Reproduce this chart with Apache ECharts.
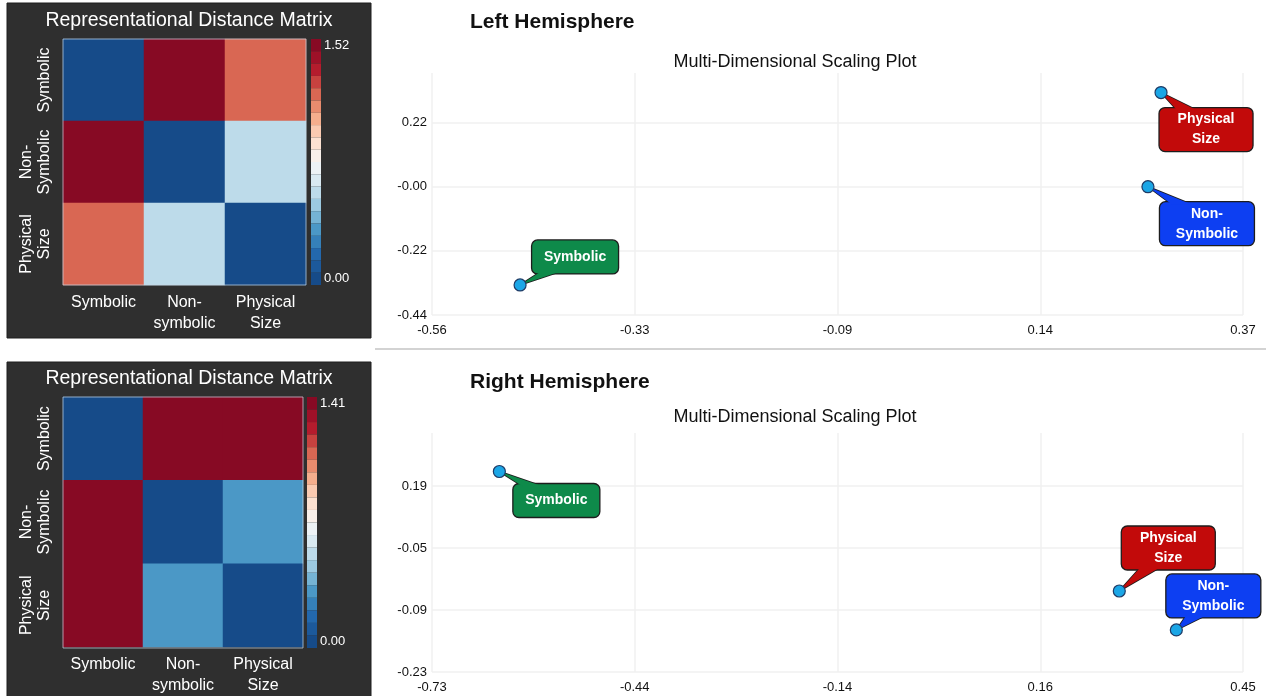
<!DOCTYPE html>
<html><head><meta charset="utf-8">
<script src="https://cdn.jsdelivr.net/npm/echarts@6/dist/echarts.min.js"></script>
<style>html,body{margin:0;padding:0;background:#fff}#c{width:1270px;height:696px}</style>
</head><body><div id="c"></div>
<script>
// ---------------- DATA ----------------
const conditions = ['Symbolic', 'Non-Symbolic', 'Physical Size'];
const calloutText = ['Symbolic', 'Non-\nSymbolic', 'Physical\nSize'];
const heatXLabels = ['Symbolic', 'Non-\nsymbolic', 'Physical\nSize'];
const heatYLabels = ['Symbolic', 'Non-\nSymbolic', 'Physical\nSize'];

// Representational distance matrices (rows/cols: Symbolic, Non-Symbolic, Physical Size)
const leftRDM = [[0, 1.52, 1.18], [1.52, 0, 0.57], [1.18, 0.57, 0]];
const rightRDM = [[0, 1.41, 1.39], [1.41, 0, 0.31], [1.39, 0.31, 0]];
const leftRDMMax = 1.52;
const rightRDMMax = 1.41;

// MDS coordinates (order: Symbolic, Non-Symbolic, Physical Size)
const leftMdsX = [-0.459, 0.261, 0.276];
const leftMdsY = [-0.337, 0.000, 0.323];
const rightMdsX = [-0.632, 0.353, 0.270];
const rightMdsY = [0.223, -0.135, -0.047];

// Axis ranges and tick labels
const leftXRange = [-0.56, 0.37];
const leftXTicks = [-0.56, -0.3275, -0.095, 0.1375, 0.37];
const leftXTickLabels = ['-0.56', '-0.33', '-0.09', '0.14', '0.37'];
const leftYRange = [-0.44, 0.39];
const leftYTicks = [-0.44, -0.22, 0, 0.22];
const leftYTickLabels = ['-0.44', '-0.22', '-0.00', '0.22'];

const rightXRange = [-0.73, 0.45];
const rightXTicks = [-0.73, -0.435, -0.14, 0.155, 0.45];
const rightXTickLabels = ['-0.73', '-0.44', '-0.14', '0.16', '0.45'];
const rightYRange = [-0.23, 0.31];
const rightYTicks = [-0.23, -0.09, 0.05, 0.19];
const rightYTickLabels = ['-0.23', '-0.09', '-0.05', '0.19'];

// ---------------- STYLE ----------------
const FONT = '"Liberation Sans", Arial, Helvetica, sans-serif';
const rdbu = ['#164b89', '#2166ac', '#4393c3', '#92c5de', '#d1e5f0', '#f7f7f7',
              '#fddbc7', '#f4a582', '#d6604d', '#b2182b', '#870a24'];
const calloutColors = ['#0e8a4a', '#0d3ff2', '#c20a0a'];
const calloutSizes = [[87, 34], [95, 44], [94, 44]];
const leftCalloutOffsets = [[55, -28], [59, 37], [45, 37]];
const rightCalloutOffsets = [[57, 29], [37, -34], [49, -43]];

const L = {
  heatTop: {left: 63, top: 39, width: 243, height: 246},
  heatBot: {left: 63, top: 397, width: 240, height: 251},
  cbarTop: {left: 311, top: 39, width: 10, height: 246},
  cbarBot: {left: 307, top: 397, width: 10, height: 251},
  mdsTop: {left: 432, top: 73, width: 811, height: 242},
  mdsBot: {left: 432, top: 433, width: 811, height: 239}
};

// ---------------- BUILD ----------------
const yCats = heatYLabels.slice().reverse();
function heatData(m) {
  const d = [];
  for (let r = 0; r < m.length; r++)
    for (let c = 0; c < m[r].length; c++) d.push([c, m.length - 1 - r, m[r][c]]);
  return d;
}
function tickFmt(ticks, labels) {
  return function (v) {
    let best = 0, bd = Infinity;
    ticks.forEach((t, i) => { const dd = Math.abs(t - v); if (dd < bd) { bd = dd; best = i; } });
    return labels[best];
  };
}
function heatXAxis(g) {
  return {gridIndex: g, type: 'category', data: heatXLabels, position: 'bottom',
    axisLine: {show: false}, axisTick: {show: false}, splitLine: {show: false},
    axisLabel: {interval: 0, color: '#fff', fontSize: 16, fontFamily: FONT, lineHeight: 21, margin: 7}};
}
function heatYAxis(g) {
  return {gridIndex: g, type: 'category', data: yCats,
    axisLine: {show: false}, axisTick: {show: false}, splitLine: {show: false},
    axisLabel: {interval: 0, rotate: 90, color: '#fff', fontSize: 16, fontFamily: FONT, lineHeight: 18, margin: 9}};
}
function cbarXAxis(g) {
  return {gridIndex: g, type: 'value', show: false, min: 0, max: 1};
}
function cbarYAxis(g, max) {
  return {gridIndex: g, type: 'value', min: 0, max: max, position: 'right',
    axisLine: {show: false}, axisTick: {show: false, customValues: [0, max]}, splitLine: {show: false},
    axisLabel: {customValues: [0, max], formatter: v => v.toFixed(2), color: '#fff', fontSize: 13,
      fontFamily: FONT, margin: 3, verticalAlignMinLabel: 'bottom', verticalAlignMaxLabel: 'top'}};
}
function mdsAxis(g, range, ticks, labels, isX) {
  return {gridIndex: g, type: 'value', min: range[0], max: range[1],
    axisLine: {show: false}, axisTick: {show: false, customValues: ticks},
    splitLine: {show: true, lineStyle: {color: '#f0f0f0', width: 1.5}},
    axisLabel: {customValues: ticks, formatter: tickFmt(ticks, labels), color: '#111', fontSize: 13,
      fontFamily: FONT, margin: isX ? 9 : 5}};
}
function piecewise(seriesIndex, max, box) {
  return {type: 'piecewise', seriesIndex: seriesIndex, min: 0, max: max, splitNumber: 20,
    inRange: {color: rdbu}, orient: 'vertical', left: box.left, top: box.top,
    itemWidth: box.width, itemHeight: box.height / 20, itemGap: 0, itemSymbol: 'rect',
    showLabel: false, padding: 0, selectedMode: false, hoverLink: false};
}
function calloutSeries(axisIdx, xs, ys, offsets) {
  return {
    type: 'custom', xAxisIndex: axisIdx, yAxisIndex: axisIdx, silent: true, z: 3, clip: false,
    data: xs.map((x, i) => [x, ys[i], i]),
    renderItem(params, api) {
      const i = api.value(2);
      const p = api.coord([api.value(0), api.value(1)]);
      const off = offsets[i], sz = calloutSizes[i], col = calloutColors[i];
      const w = sz[0], h = sz[1];
      const cx = p[0] + off[0], cy = p[1] + off[1];
      const vx = p[0] - cx, vy = p[1] - cy;
      const tx = Math.abs((w / 2) / (vx || 1e-6)), ty = Math.abs((h / 2) / (vy || 1e-6));
      let b1, b2;
      if (ty < tx) {
        const sy = Math.sign(vy);
        const ey = cy + sy * h / 2 - sy * 3;
        let ex = cx + vx * ty; ex = ex + (cx - ex) * 0.3;
        b1 = [ex - 10, ey]; b2 = [ex + 10, ey];
      } else {
        const sx = Math.sign(vx);
        const ex = cx + sx * w / 2 - sx * 3;
        let ey = cy + vy * tx; ey = ey + (cy - ey) * 0.3;
        b1 = [ex, ey - 8]; b2 = [ex, ey + 8];
      }
      return {type: 'group', children: [
        {type: 'polygon', shape: {points: [p, b1, b2]}, style: {fill: col, stroke: '#1d1d1d', lineWidth: 1.6}},
        {type: 'rect', shape: {x: cx - w / 2, y: cy - h / 2, width: w, height: h, r: 6},
          style: {fill: col, stroke: '#1d1d1d', lineWidth: 1.3}},
        {type: 'polygon', shape: {points: [p, b1, b2]}, style: {fill: col}},
        {type: 'text', x: cx, y: cy, style: {text: calloutText[i], fill: '#fff',
          font: 'bold 14px ' + FONT, align: 'center', verticalAlign: 'middle', lineHeight: 20}}
      ]};
    }
  };
}
function pointSeries(axisIdx, xs, ys) {
  return {type: 'scatter', xAxisIndex: axisIdx, yAxisIndex: axisIdx, z: 5, silent: true,
    data: xs.map((x, i) => [x, ys[i]]), symbolSize: 12,
    itemStyle: {color: '#1ba6e6', borderColor: '#1e3b66', borderWidth: 1.2, opacity: 1}};
}
function txt(x, y, text, font, fill, align) {
  return {type: 'text', x: x, y: y, silent: true,
    style: {text: text, font: font, fill: fill, align: align, verticalAlign: 'middle',
      textAlign: align, textVerticalAlign: 'middle'}};
}
function outline(box) {
  return {type: 'rect', z: 20, silent: true,
    shape: {x: box.left, y: box.top, width: box.width, height: box.height},
    style: {fill: null, stroke: 'rgba(200,215,230,0.7)', lineWidth: 1}};
}

const option = {
  animation: false,
  backgroundColor: '#fff',
  graphic: [
    {type: 'rect', shape: {x: 7, y: 3, width: 364, height: 335}, style: {fill: '#2f2f2f', stroke: '#1e1e1e', lineWidth: 1}, z: -10, silent: true},
    {type: 'rect', shape: {x: 7, y: 362, width: 364, height: 340}, style: {fill: '#2f2f2f', stroke: '#1e1e1e', lineWidth: 1}, z: -10, silent: true},
    {type: 'line', shape: {x1: 375, y1: 349, x2: 1266, y2: 349}, style: {stroke: '#c4c4c4', lineWidth: 1.5}, silent: true},
    outline(L.heatTop), outline(L.heatBot),
    txt(189, 21, 'Representational Distance Matrix', '19.5px ' + FONT, '#fff', 'center'),
    txt(189, 379, 'Representational Distance Matrix', '19.5px ' + FONT, '#fff', 'center'),
    txt(470, 22, 'Left Hemisphere', 'bold 21px ' + FONT, '#111', 'left'),
    txt(470, 382, 'Right Hemisphere', 'bold 21px ' + FONT, '#111', 'left'),
    txt(795, 62, 'Multi-Dimensional Scaling Plot', '18px ' + FONT, '#111', 'center'),
    txt(795, 417, 'Multi-Dimensional Scaling Plot', '18px ' + FONT, '#111', 'center')
  ],
  grid: [
    Object.assign({show: false}, L.heatTop),
    Object.assign({show: false}, L.heatBot),
    Object.assign({show: false}, L.cbarTop),
    Object.assign({show: false}, L.cbarBot),
    Object.assign({show: false}, L.mdsTop),
    Object.assign({show: false}, L.mdsBot)
  ],
  xAxis: [
    heatXAxis(0), heatXAxis(1), cbarXAxis(2), cbarXAxis(3),
    mdsAxis(4, leftXRange, leftXTicks, leftXTickLabels, true),
    mdsAxis(5, rightXRange, rightXTicks, rightXTickLabels, true)
  ],
  yAxis: [
    heatYAxis(0), heatYAxis(1), cbarYAxis(2, leftRDMMax), cbarYAxis(3, rightRDMMax),
    mdsAxis(4, leftYRange, leftYTicks, leftYTickLabels, false),
    mdsAxis(5, rightYRange, rightYTicks, rightYTickLabels, false)
  ],
  visualMap: [piecewise(0, leftRDMMax, L.cbarTop), piecewise(1, rightRDMMax, L.cbarBot)],
  series: [
    {type: 'heatmap', xAxisIndex: 0, yAxisIndex: 0, data: heatData(leftRDM), silent: true, emphasis: {disabled: true}},
    {type: 'heatmap', xAxisIndex: 1, yAxisIndex: 1, data: heatData(rightRDM), silent: true, emphasis: {disabled: true}},
    calloutSeries(4, leftMdsX, leftMdsY, leftCalloutOffsets),
    calloutSeries(5, rightMdsX, rightMdsY, rightCalloutOffsets),
    pointSeries(4, leftMdsX, leftMdsY),
    pointSeries(5, rightMdsX, rightMdsY)
  ]
};
const chart = echarts.init(document.getElementById('c'));
chart.setOption(option);
</script>
</body></html>
